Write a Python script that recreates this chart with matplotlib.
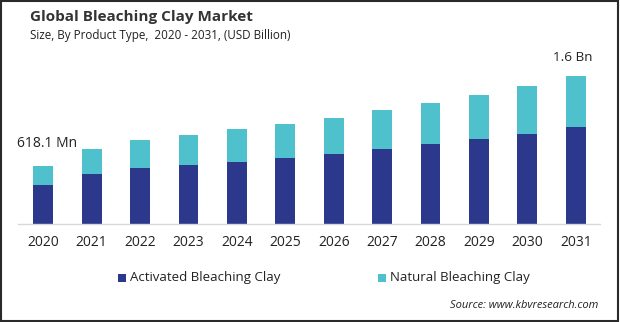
import matplotlib
matplotlib.use("Agg")
import matplotlib.pyplot as plt
from matplotlib.patches import Rectangle

years = ["2020", "2021", "2022", "2023", "2024", "2025", "2026", "2027", "2028", "2029", "2030", "2031"]
activated = [0.416, 0.533, 0.597, 0.629, 0.661, 0.703, 0.746, 0.799, 0.852, 0.906, 0.959, 1.034]
natural = [0.202, 0.266, 0.298, 0.320, 0.352, 0.362, 0.384, 0.416, 0.437, 0.469, 0.512, 0.543]
series_names = ["Activated Bleaching Clay", "Natural Bleaching Clay"]
first_label = "618.1 Mn"
last_label = "1.6 Bn"

DARK = "#2b388c"
LIGHT = "#4fc1cd"
FONT = ["Open Sans", "DejaVu Sans"]
plt.rcParams["font.family"] = FONT

W, H = 620, 322
fig = plt.figure(figsize=(W / 100, H / 100), dpi=100)

# axes: baseline y=224, x from 18 to 600
ax_left, ax_right = 18, 600
ax_bottom = 224
ax_top = 40
ax = fig.add_axes([ax_left / W, 1 - ax_bottom / H, (ax_right - ax_left) / W, (ax_bottom - ax_top) / H])
x = list(range(len(years)))
ax.bar(x, activated, width=0.41, color=DARK, label=series_names[0])
ax.bar(x, natural, bottom=activated, width=0.41, color=LIGHT, label=series_names[1])
ax.set_xlim(-0.52, 11.5)
scale = 93.85  # px per Bn
ax.set_ylim(0, (ax_bottom - ax_top) / scale)
for s in ["top", "right", "left"]:
    ax.spines[s].set_visible(False)
ax.spines["bottom"].set_color("#d9d9d9")
ax.spines["bottom"].set_linewidth(1.0)
ax.set_yticks([])
ax.set_xticks(x)
ax.set_xticklabels(years, fontsize=10, color="#222222")
ax.tick_params(axis="x", length=0, pad=8)

tot0 = activated[0] + natural[0]
ax.annotate(first_label, (0, tot0), xytext=(3, 16), textcoords="offset points",
            ha="center", va="center", fontsize=10, color="#222222")
totN = activated[-1] + natural[-1]
ax.annotate(last_label, (len(years) - 1, totN), xytext=(-2, 13), textcoords="offset points",
            ha="center", va="center", fontsize=9.7, color="#222222")

fig.text(30 / W, 1 - 17 / H, "Global Bleaching Clay Market", fontsize=11, fontweight="bold",
         color="#333333", ha="left", va="center")
fig.text(30 / W, 1 - 36 / H, "Size, By Product Type,  2020 - 2031, (USD Billion)", fontsize=8.4,
         color="#222222", ha="left", va="center")

# legend
ly = 278
for sx, col, name in [(118, DARK, series_names[0]), (378, LIGHT, series_names[1])]:
    fig.patches.append(Rectangle((sx / W, 1 - (ly + 4) / H), 8 / W, 8 / H, transform=fig.transFigure,
                                 facecolor=col, edgecolor="none"))
    fig.text((sx + 12) / W, 1 - ly / H, name, fontsize=9.5, color="#222222", ha="left", va="center")

fig.text(598 / W, 1 - 305 / H, "Source: www.kbvresearch.com", fontsize=8, style="italic",
         color="#222222", ha="right", va="center")

# border
fig.patches.append(Rectangle((1 / W, 1 / H), (W - 3) / W, (H - 2) / H, transform=fig.transFigure,
                             facecolor="none", edgecolor="#2a2a2a", linewidth=1.5))

fig.savefig("out.png", dpi=100)
